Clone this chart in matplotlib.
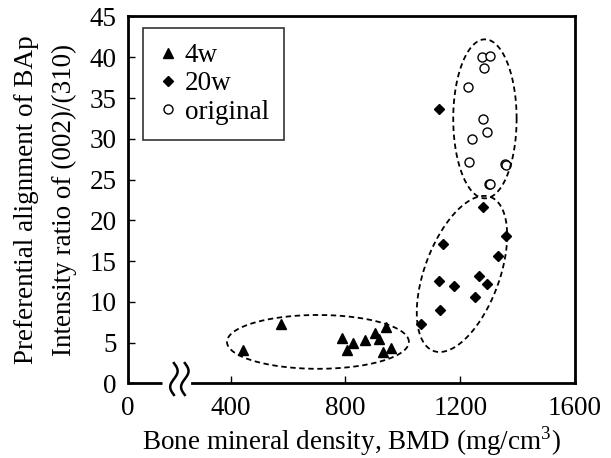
import matplotlib.pyplot as plt
import numpy as np

plt.rcParams['font.family'] = ['Liberation Serif', 'DejaVu Serif']
plt.rcParams['mathtext.fontset'] = 'custom'
plt.rcParams['mathtext.rm'] = 'Liberation Serif'

# data (BMD in mg/cm3, intensity ratio)
bmd_4w = [442, 574, 789, 827, 868, 903, 918, 941, 806, 932, 959]
ratio_4w = [4.1, 7.3, 5.6, 5.0, 5.3, 6.2, 5.5, 6.9, 4.1, 3.9, 4.4]

bmd_20w = [1126, 1280, 1360, 1141, 1333, 1126, 1267, 1178, 1292, 1250, 1130, 1062]
ratio_20w = [33.7, 21.6, 18.1, 17.1, 15.6, 12.6, 13.2, 11.9, 12.2, 10.6, 9.0, 7.3]

bmd_orig = [1275, 1305, 1284, 1226, 1278, 1292, 1242, 1230, 1356, 1359, 1300, 1302]
ratio_orig = [40.0, 40.1, 38.7, 36.4, 32.4, 30.8, 30.0, 27.1, 26.9, 26.8, 24.5, 24.4]

x_ticks = [42, 400, 800, 1200, 1600]
x_ticklabels = ['0', '400', '800', '1200', '1600']
y_ticks = list(range(0, 50, 5))


def ring(cx, cy, ux, uy, vx, vy):
    t = np.linspace(0, 2 * np.pi, 300)
    return cx + ux * np.cos(t) + vx * np.sin(t), cy + uy * np.cos(t) + vy * np.sin(t)


fig = plt.figure(figsize=(6.11, 4.58), dpi=100)
ax = fig.add_axes([0.2095, 0.1627, 0.7316, 0.8013])

ax.plot(bmd_4w, ratio_4w, '^', color='black', markersize=7.5, label='4w', linestyle='none')
ax.plot(bmd_20w, ratio_20w, 'D', color='black', markersize=5.2, label='20w', linestyle='none')
ax.plot(bmd_orig, ratio_orig, 'o', markerfacecolor='white', markeredgecolor='black',
        markeredgewidth=1.0, markersize=6.5, label='original', linestyle='none')

# dashed grouping ellipses
dash = dict(color='black', lw=1.3, linestyle=(0, (3, 2)))
ax.plot(*ring(704, 5.1, 317, 0, 0, 3.3), **dash)
ax.plot(*ring(1206, 13.43, 99.3, 9.44, 122.3, -1.59), **dash)
ax.plot(*ring(1286, 32.45, 110.5, 0, 0, 9.75), **dash)

ax.set_xlim(42, 1600)
ax.set_ylim(0, 45)
ax.set_xticks(x_ticks)
ax.set_xticklabels(x_ticklabels)
ax.set_yticks(y_ticks)
ax.tick_params(direction='in', length=5, width=1, labelsize=19.5, pad=8)
ax.tick_params(axis='x', pad=9)

for s in ax.spines.values():
    s.set_linewidth(2)

# broken x axis
ax.spines['bottom'].set_bounds(265, 1600)
ax.plot([42, 160], [0, 0], color='black', lw=2, clip_on=False, solid_capstyle='butt')
yy = np.linspace(-1.4, 2.5, 60)
for xc in [202, 240]:
    ax.plot(xc - 13 * np.sin(2 * np.pi * (yy + 1.4) / 3.9), yy, color='black', lw=1.8, clip_on=False)

ax.set_xlabel('Bone mineral density, BMD (mg/cm$^{3}$)', fontsize=19.5, labelpad=2)
ax.set_ylabel('Preferential alignment of BAp\nIntensity ratio of (002)/(310)', fontsize=19.5,
              linespacing=1.7, labelpad=9)

leg = ax.legend(loc='upper left', bbox_to_anchor=(0.033, 0.968), borderaxespad=0,
                fontsize=19.5, frameon=True, fancybox=False, edgecolor='black',
                handlelength=0.75, handletextpad=0.25, borderpad=0.55, labelspacing=0.12)
leg.get_frame().set_linewidth(1.2)

fig.savefig('out.png', dpi=100)
